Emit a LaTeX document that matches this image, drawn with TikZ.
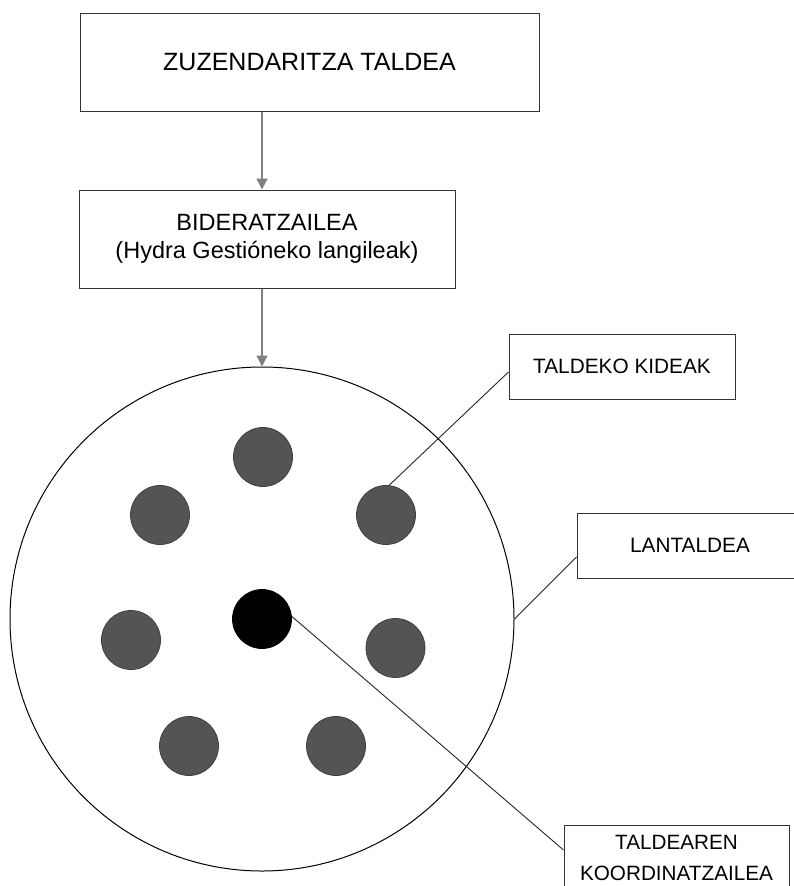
\documentclass[tikz,border=0pt]{standalone}
\usepackage{fontspec}
\setmainfont{Liberation Sans}
\usetikzlibrary{arrows.meta,calc}
\begin{document}
\begin{tikzpicture}[x=1pt,y=-1pt,
  boxstyle/.style={draw=black!80, line width=1pt, fill=white, rectangle, inner sep=0pt, align=center},
  member/.style={circle, draw=black!75, line width=0.8pt, fill=black!67, minimum size=59pt, inner sep=0pt},
  coord/.style={circle, draw=black, line width=0.8pt, fill=black, minimum size=59pt, inner sep=0pt},
  flow/.style={draw=black!50, line width=1.3pt, -{Triangle[length=11pt,width=11pt]}},
  leader/.style={draw=black!85, line width=0.9pt}
]
\useasboundingbox (0,0) rectangle (794,886);

% boxes
\node[boxstyle, minimum width=459pt, minimum height=98pt, font={\fontsize{25}{30}\selectfont}] (top) at (309.5,62) {ZUZENDARITZA TALDEA};
\node[boxstyle, minimum width=376pt, minimum height=98pt, font={\fontsize{23.5}{28}\selectfont}] (bider) at (267,239) {BIDERATZAILEA\\(Hydra Gestióneko langileak)};
\node[boxstyle, minimum width=226pt, minimum height=65pt, font={\fontsize{20.8}{25}\selectfont}] (kide) at (622,366.5) {TALDEKO KIDEAK};
\node[boxstyle, minimum width=226pt, minimum height=65pt, font={\fontsize{20.8}{25}\selectfont}] (lan) at (690,545.5) {LANTALDEA};
\node[boxstyle, minimum width=225pt, minimum height=65pt, font={\fontsize{20.7}{31}\selectfont}] (koord) at (676.5,857.5) {TALDEAREN\\KOORDINATZAILEA};

% working group circle
\node[circle, draw=black, line width=1pt, minimum size=504pt, inner sep=0pt] (big) at (262,619) {};

% members
\node[member] (m1) at (263,457) {};
\node[member] (m2) at (160,515) {};
\node[member] (m3) at (386,515) {};
\node[member] (m4) at (131,640) {};
\node[member] (m5) at (395.5,648) {};
\node[member] (m6) at (189,746) {};
\node[member] (m7) at (336,746) {};
\node[coord] (black) at (262,619) {};

% arrows
\draw[flow] (top.south -| big.north) -- (bider.north -| big.north);
\draw[flow] (bider.south -| big.north) -- (big.north);

% leader lines
\draw[leader] ($(kide.west)+(0,5.5)$) -- (m3.84);
\draw[leader] ($(lan.west)+(0,11.5)$) -- (big.east);
\draw[leader] ($(koord.west)+(0,-7.5)$) -- (black.5);
\end{tikzpicture}
\end{document}
